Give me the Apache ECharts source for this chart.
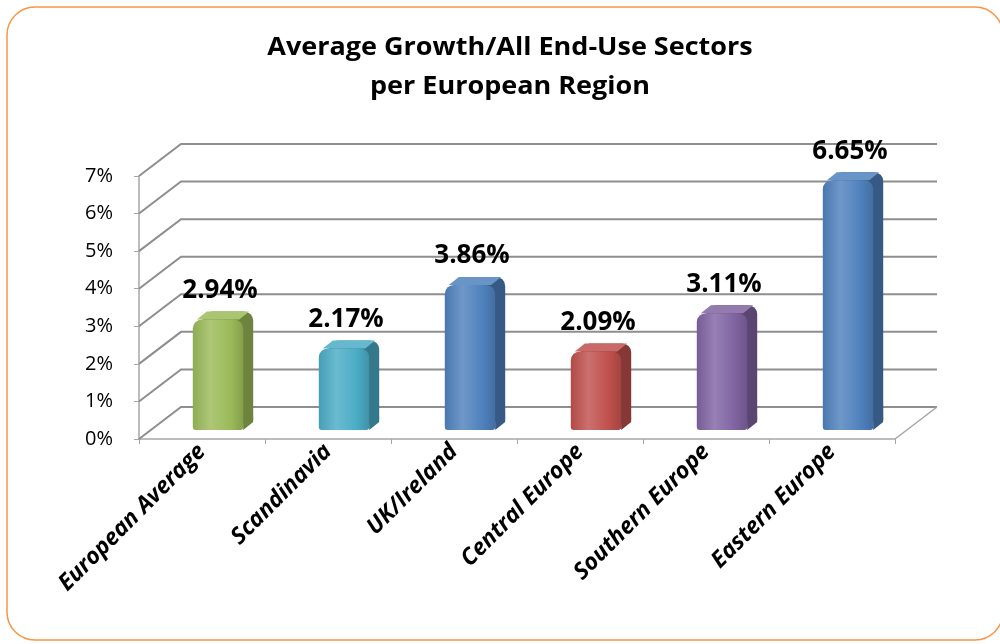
<!DOCTYPE html>
<html>
<head>
<meta charset="utf-8">
<script src="https://cdn.jsdelivr.net/npm/echarts@6/dist/echarts.min.js"></script>
<style>
  html, body { margin: 0; padding: 0; background: #fff; }
  #chart { width: 1000px; height: 644px; }
</style>
</head>
<body>
<div id="chart"></div>
<script>
// Regions and their average growth (%)
const categories = ['European Average', 'Scandinavia', 'UK/Ireland', 'Central Europe', 'Southern Europe', 'Eastern Europe'];
const growth = [2.94, 2.17, 3.86, 2.09, 3.11, 6.65];
const barColors = ['#9BBB59', '#4BACC6', '#4F81BD', '#C0504D', '#8064A2', '#4F81BD'];
const yTicks = [0, 1, 2, 3, 4, 5, 6, 7];
const titleText = 'Average Growth/All End-Use Sectors\nper European Region';

const FONT = '"Open Sans", Lato, sans-serif';
// oblique depth of the back wall
const DX = 42, DY = -32;

function shade(hex, f) {
  const n = parseInt(hex.slice(1), 16);
  let r = (n >> 16) & 255, g = (n >> 8) & 255, b = n & 255;
  const adj = c => f >= 0 ? Math.round(c + (255 - c) * f) : Math.round(c * (1 + f));
  r = adj(r); g = adj(g); b = adj(b);
  return '#' + ((1 << 24) + (r << 16) + (g << 8) + b).toString(16).slice(1);
}

const chart = echarts.init(document.getElementById('chart'), null, { renderer: 'canvas' });

// back wall gridlines, side wall diagonals and floor edge
function renderFrame(params, api) {
  const v = api.value(1);
  const p = api.coord([0, v]);
  const band = api.size([1, 0])[0];
  const xL = p[0] - band / 2;
  const xR = xL + band * categories.length;
  const y = p[1];
  const style = { stroke: '#8e8e8e', lineWidth: 2, fill: null };
  const children = [{
    type: 'polyline',
    shape: { points: [[xL, y], [xL + DX, y + DY], [xR + DX, y + DY]] },
    style: style
  }];
  if (v === 0) {
    children.push({
      type: 'line',
      shape: { x1: xR, y1: y, x2: xR + DX, y2: y + DY },
      style: { stroke: '#a6a6a6', lineWidth: 1.5 }
    });
  }
  return { type: 'group', children: children };
}

// bevelled box bars with value labels
function renderBar(params, api) {
  const i = api.value(0);
  const v = api.value(1);
  const top = api.coord([i, v]);
  const base = api.coord([i, 0]);
  const band = api.size([1, 0])[0];
  const color = barColors[i];
  const fw = band * 0.4, sw = 10, sh = -8;
  const cx = top[0] + 16;
  const x0 = cx - fw / 2, x1 = cx + fw / 2;
  const yT = top[1] - 9, yB = base[1] - 9;
  const h = yB - yT;
  return {
    type: 'group',
    children: [
      { // back silhouette (side + top)
        type: 'rect',
        shape: { x: x0 + sw, y: yT + sh, width: fw, height: h, r: [9, 9, 3, 3] },
        style: { fill: shade(color, -0.3) }
      },
      {
        type: 'polygon',
        shape: { points: [[x1 - 2, yT + 4], [x1 + sw - 2, yT + sh + 4], [x1 + sw, yB + sh], [x1, yB]] },
        style: { fill: shade(color, -0.3) }
      },
      {
        type: 'polygon',
        shape: { points: [[x0 + 4, yT], [x0 + sw + 4, yT + sh], [x1 + sw - 4, yT + sh], [x1 - 4, yT]] },
        style: { fill: shade(color, 0.15) }
      },
      { // front face
        type: 'rect',
        shape: { x: x0, y: yT, width: fw, height: h, r: [9, 9, 3, 3] },
        style: {
          fill: new echarts.graphic.LinearGradient(0, 0, 1, 0, [
            { offset: 0, color: shade(color, -0.08) },
            { offset: 0.35, color: shade(color, 0.18) },
            { offset: 0.75, color: color },
            { offset: 1, color: shade(color, -0.15) }
          ])
        }
      },
      {
        type: 'text',
        style: {
          x: cx + 2, y: yT + sh - 21,
          text: v.toFixed(2) + '%',
          align: 'center', verticalAlign: 'middle',
          font: 'bold 26px ' + FONT,
          fill: '#000'
        }
      }
    ]
  };
}

const option = {
  backgroundColor: '#fff',
  animation: false,
  graphic: [
    {
      type: 'rect',
      shape: { x: 7, y: 7, width: 996, height: 633, r: 28 },
      style: { fill: null, stroke: '#F79646', lineWidth: 1.5 },
      z: -10
    },
    { // chart title, slightly widened
      type: 'text',
      x: 510, y: 28,
      scaleX: 1.08,
      style: {
        text: titleText,
        align: 'center', verticalAlign: 'top',
        font: 'bold 25px ' + FONT,
        lineHeight: 39,
        fill: '#000'
      }
    }
  ],
  grid: { left: 139, right: 105, top: 176, bottom: 205, containLabel: false },
  xAxis: {
    type: 'category',
    data: categories,
    axisLine: { lineStyle: { color: '#a6a6a6', width: 1.5 } },
    axisTick: { show: true, length: 5, lineStyle: { color: '#a6a6a6' } },
    axisLabel: {
      interval: 0, rotate: 45, margin: 9,
      fontFamily: FONT, fontSize: 23, fontWeight: 'bold', fontStyle: 'italic', color: '#000'
    },
    splitLine: { show: false }
  },
  yAxis: {
    type: 'value',
    min: 0, max: 7, interval: 1,
    axisLine: { show: true, lineStyle: { color: '#a6a6a6', width: 1.5 } },
    axisTick: { show: true, length: 5, lineStyle: { color: '#a6a6a6' } },
    axisLabel: { formatter: '{value}%', margin: 26, fontFamily: FONT, fontSize: 20, color: '#000' },
    splitLine: { show: false }
  },
  series: [
    {
      type: 'custom',
      renderItem: renderFrame,
      data: yTicks.map(v => [0, v]),
      z: 1,
      silent: true
    },
    {
      type: 'custom',
      renderItem: renderBar,
      data: growth.map((v, i) => [i, v]),
      z: 2
    }
  ]
};

chart.setOption(option);
</script>
</body>
</html>
